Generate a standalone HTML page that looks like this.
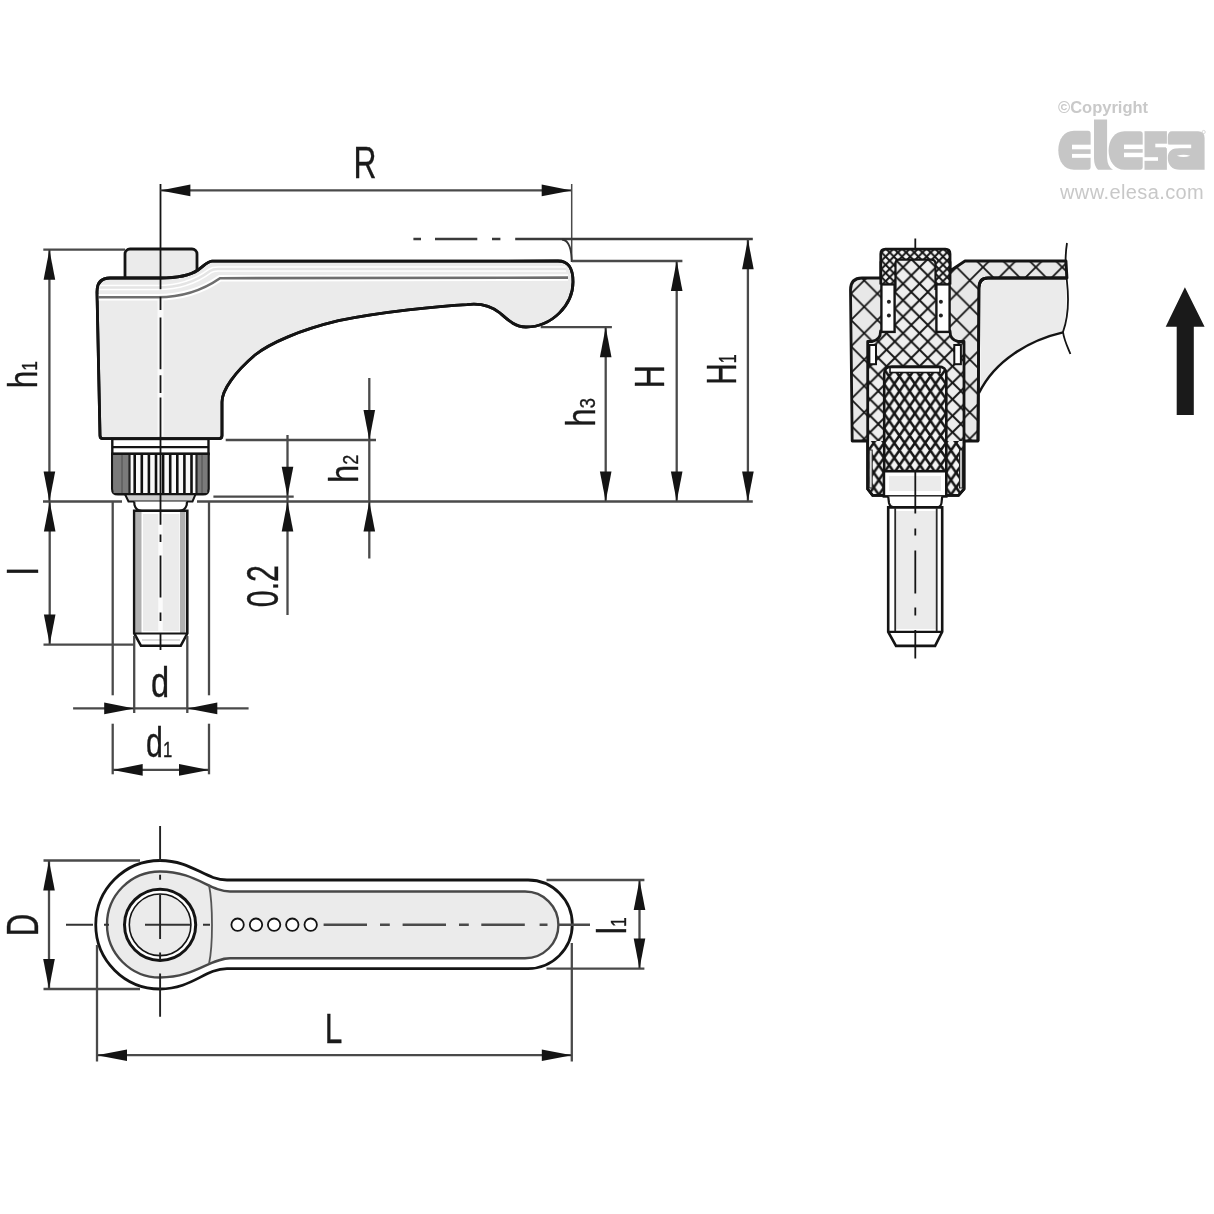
<!DOCTYPE html><html><head><meta charset="utf-8"><style>html,body{margin:0;padding:0;background:#fff;width:1214px;height:1214px;overflow:hidden}svg{display:block;will-change:transform}</style></head><body>
<svg width="1214" height="1214" viewBox="0 0 1214 1214">
<defs>
<pattern id="hc" patternUnits="userSpaceOnUse" width="26.40" height="26.40" x="851.0" y="320.0"><rect width="26.40" height="26.40" fill="#e8e8e8"/><path d="M-2.00,-2.00 L28.40,28.40 M28.40,-2.00 L-2.00,28.40 M-2,-2 L0.00,0.00 M0.00,0.00 L0.00,0.00" stroke="#151515" stroke-width="1.80"/></pattern>
<pattern id="hm" patternUnits="userSpaceOnUse" width="16.50" height="16.50" x="878.3" y="341.5"><rect width="16.50" height="16.50" fill="#eeeeee"/><path d="M-2.00,-2.00 L18.50,18.50 M18.50,-2.00 L-2.00,18.50 M-2,-2 L0.00,0.00 M0.00,0.00 L0.00,0.00" stroke="#151515" stroke-width="1.90"/></pattern>
<pattern id="hk" patternUnits="userSpaceOnUse" width="10.3" height="14.8" x="884" y="369"><rect width="10.3" height="14.8" fill="#f4f4f4"/><path d="M-1.03,-1.48 L11.33,16.28 M11.33,-1.48 L-1.03,16.28" stroke="#151515" stroke-width="2.5"/></pattern>
<pattern id="hf" patternUnits="userSpaceOnUse" width="8.20" height="8.20" x="881.5" y="252.5"><rect width="8.20" height="8.20" fill="#f6f6f6"/><path d="M-2.00,-2.00 L10.20,10.20 M10.20,-2.00 L-2.00,10.20 M-2,-2 L0.00,0.00 M0.00,0.00 L0.00,0.00" stroke="#151515" stroke-width="2.00"/></pattern>
</defs>
<rect x="125" y="249" width="72" height="40" rx="5" fill="#ebebeb" stroke="#141414" stroke-width="2.8"/>
<path d="M97,292 Q97,278 110,278 L160,278 C180,278 190,275.5 198,270 C204,266 207,261.5 212,261.2 L558,261 C570,261 573,270 573,282 C573,305 552,327 526,327 C515,327 508,320 500,313 C490,305 480,303 467,304.6 C440,306 380,312 338.5,320.7 C300,330 270,343 255,355 C235,372 222,390 222,402 L222,435.5 Q222,438.6 219,438.6 L103,438.6 Q100,438.6 100,435.5 Z" fill="#ebebeb" stroke="#141414" stroke-width="2.8" stroke-linejoin="round"/>
<path d="M99,287.5 L158,287.5 C176,287.5 194,283 210,271 C213,269 214,269 218,269 L566,269" fill="none" stroke="#fff" stroke-width="5.5"/>
<path d="M99,287.5 L158,287.5 C176,287.5 194,283 210,271 C213,269 214,269 218,269 L566,269" fill="none" stroke="#e4e4e4" stroke-width="2.5"/>
<path d="M98.5,297.2 L158,297.2 C178,297.2 200,292 220,278.2 L568,277.6" fill="none" stroke="#fff" stroke-width="6.5"/>
<path d="M98.5,297.2 L158,297.2 C178,297.2 200,292 220,278.2 L568,277.6" fill="none" stroke="#6e6e6e" stroke-width="2.6"/>
<path d="M97,292 Q97,278 110,278 L160,278 C180,278 190,275.5 198,270 C204,266 207,261.5 212,261.2 L558,261 C570,261 573,270 573,282 C573,305 552,327 526,327 C515,327 508,320 500,313 C490,305 480,303 467,304.6 C440,306 380,312 338.5,320.7 C300,330 270,343 255,355 C235,372 222,390 222,402 L222,435.5 Q222,438.6 219,438.6 L103,438.6 Q100,438.6 100,435.5 Z" fill="none" stroke="#141414" stroke-width="2.8" stroke-linejoin="round"/>
<rect x="112.3" y="439" width="96.2" height="15" fill="#fff" stroke="#141414" stroke-width="2.4"/>
<line x1="112.3" y1="447.2" x2="208.5" y2="447.2" stroke="#141414" stroke-width="2.20" />
<path d="M112.3,453.8 L208.5,453.8 L208.5,489 Q208.5,494.3 203,494.3 L118,494.3 Q112.3,494.3 112.3,489 Z" fill="#fafafa" stroke="#141414" stroke-width="2.6"/>
<rect x="113.5" y="455" width="16" height="38" fill="#7a7a7a"/>
<rect x="197" y="455" width="10.3" height="38" fill="#7a7a7a"/>
<line x1="122.0" y1="455.0" x2="122.0" y2="493.0" stroke="#555" stroke-width="1.20" />
<line x1="202.0" y1="455.0" x2="202.0" y2="493.0" stroke="#555" stroke-width="1.20" />
<line x1="134.7" y1="455.0" x2="134.7" y2="493.0" stroke="#111" stroke-width="2.60" />
<line x1="141.8" y1="455.0" x2="141.8" y2="493.0" stroke="#111" stroke-width="2.60" />
<line x1="148.9" y1="455.0" x2="148.9" y2="493.0" stroke="#111" stroke-width="2.60" />
<line x1="156.0" y1="455.0" x2="156.0" y2="493.0" stroke="#111" stroke-width="2.60" />
<line x1="163.1" y1="455.0" x2="163.1" y2="493.0" stroke="#111" stroke-width="2.60" />
<line x1="170.2" y1="455.0" x2="170.2" y2="493.0" stroke="#111" stroke-width="2.60" />
<line x1="177.3" y1="455.0" x2="177.3" y2="493.0" stroke="#111" stroke-width="2.60" />
<line x1="184.4" y1="455.0" x2="184.4" y2="493.0" stroke="#111" stroke-width="2.60" />
<line x1="191.5" y1="455.0" x2="191.5" y2="493.0" stroke="#111" stroke-width="2.60" />
<line x1="129.5" y1="455.0" x2="129.5" y2="493.0" stroke="#222" stroke-width="2.20" />
<line x1="196.5" y1="455.0" x2="196.5" y2="493.0" stroke="#222" stroke-width="2.20" />
<path d="M125,494.3 L128.5,501.5 L192.5,501.5 L195.5,494.3 Z" fill="#cfcfcf" stroke="#141414" stroke-width="2"/>
<path d="M134.2,501.5 L134.5,505 Q136,510.8 142,510.8 L179,510.8 Q185,510.8 186.7,505 L187,501.5" fill="#fff" stroke="#141414" stroke-width="2.2"/>
<path d="M134.2,510.8 L134.2,633.5 L141,645.8 L180.7,645.8 L187.3,633.5 L187.3,510.8 Z" fill="#fff" stroke="#141414" stroke-width="2.6"/>
<rect x="143" y="514" width="36.5" height="117" fill="#ebebeb"/>
<rect x="136" y="512" width="5.5" height="121" fill="#b0b0b0"/>
<rect x="180" y="512" width="5.5" height="121" fill="#b0b0b0"/>
<path d="M160.5,514 L160.5,631" stroke="#fbfbfb" stroke-width="4.5"/>
<line x1="134.2" y1="633.5" x2="187.3" y2="633.5" stroke="#141414" stroke-width="2.20" />
<path d="M142,640 L180,640" stroke="#ddd" stroke-width="2"/>
<path d="M160.5,299 L160.5,436" stroke="#fafafa" stroke-width="6"/>
<path d="M160.5,184 L160.5,289.3 M160.5,296.7 L160.5,310 M160.5,317.4 L160.5,369.3 M160.5,375.2 L160.5,393 M160.5,397.4 L160.5,524.7 M160.5,534.6 L160.5,542 M160.5,555.6 L160.5,597.6 M160.5,612.5 L160.5,621 M160.5,633.5 L160.5,650" stroke="#141414" stroke-width="1.8"/>
<line x1="160.4" y1="190.4" x2="571.7" y2="190.4" stroke="#4a4a4a" stroke-width="2.30" />
<path d="M160.4,190.4 L190.4,184.6 L190.4,196.2 Z" fill="#141414"/>
<path d="M571.7,190.4 L541.7,184.6 L541.7,196.2 Z" fill="#141414"/>
<line x1="571.7" y1="184.0" x2="571.7" y2="262.0" stroke="#4a4a4a" stroke-width="1.50" />
<path d="M413.4,239 L421,239 M435,239 L477.3,239 M492,239 L500.4,239 M515.2,239 L752.8,239" stroke="#3a3a3a" stroke-width="2.5"/>
<path d="M562,239.5 C568,240 571.5,246 571.7,262" fill="none" stroke="#333" stroke-width="1.8"/>
<line x1="572.0" y1="261.0" x2="682.4" y2="261.0" stroke="#4a4a4a" stroke-width="2.30" />
<line x1="540.7" y1="327.2" x2="611.9" y2="327.2" stroke="#4a4a4a" stroke-width="2.30" />
<line x1="43.0" y1="501.5" x2="122.0" y2="501.5" stroke="#4a4a4a" stroke-width="2.30" />
<line x1="197.0" y1="501.5" x2="752.8" y2="501.5" stroke="#4a4a4a" stroke-width="2.30" />
<line x1="43.3" y1="249.7" x2="125.0" y2="249.7" stroke="#4a4a4a" stroke-width="2.30" />
<line x1="49.4" y1="249.7" x2="49.4" y2="501.5" stroke="#4a4a4a" stroke-width="2.30" />
<path d="M49.4,249.7 L43.6,279.7 L55.2,279.7 Z" fill="#141414"/>
<path d="M49.4,501.5 L43.6,471.5 L55.2,471.5 Z" fill="#141414"/>
<line x1="49.7" y1="501.5" x2="49.7" y2="644.6" stroke="#4a4a4a" stroke-width="2.30" />
<path d="M49.7,501.5 L43.9,531.5 L55.5,531.5 Z" fill="#141414"/>
<path d="M49.7,644.6 L43.9,614.6 L55.5,614.6 Z" fill="#141414"/>
<line x1="43.5" y1="644.6" x2="135.0" y2="644.6" stroke="#4a4a4a" stroke-width="2.30" />
<line x1="605.7" y1="327.2" x2="605.7" y2="501.5" stroke="#4a4a4a" stroke-width="2.30" />
<path d="M605.7,327.2 L599.9,357.2 L611.5,357.2 Z" fill="#141414"/>
<path d="M605.7,501.5 L599.9,471.5 L611.5,471.5 Z" fill="#141414"/>
<line x1="676.7" y1="261.0" x2="676.7" y2="501.5" stroke="#4a4a4a" stroke-width="2.30" />
<path d="M676.7,261.0 L670.9,291.0 L682.5,291.0 Z" fill="#141414"/>
<path d="M676.7,501.5 L670.9,471.5 L682.5,471.5 Z" fill="#141414"/>
<line x1="747.9" y1="239.3" x2="747.9" y2="501.5" stroke="#4a4a4a" stroke-width="2.30" />
<path d="M747.9,239.3 L742.1,269.3 L753.7,269.3 Z" fill="#141414"/>
<path d="M747.9,501.5 L742.1,471.5 L753.7,471.5 Z" fill="#141414"/>
<line x1="225.7" y1="440.0" x2="376.0" y2="440.0" stroke="#4a4a4a" stroke-width="2.30" />
<line x1="369.3" y1="378.0" x2="369.3" y2="558.5" stroke="#4a4a4a" stroke-width="2.30" />
<path d="M369.3,440.0 L363.5,410.0 L375.1,410.0 Z" fill="#141414"/>
<path d="M369.3,501.5 L363.5,531.5 L375.1,531.5 Z" fill="#141414"/>
<line x1="287.5" y1="435.0" x2="287.5" y2="615.0" stroke="#4a4a4a" stroke-width="2.30" />
<path d="M287.5,496.7 L281.7,466.7 L293.3,466.7 Z" fill="#141414"/>
<path d="M287.5,501.5 L281.7,531.5 L293.3,531.5 Z" fill="#141414"/>
<line x1="213.4" y1="496.7" x2="293.7" y2="496.7" stroke="#4a4a4a" stroke-width="2.30" />
<line x1="112.7" y1="501.0" x2="112.7" y2="695.3" stroke="#4a4a4a" stroke-width="2.30" />
<line x1="112.7" y1="723.7" x2="112.7" y2="774.3" stroke="#4a4a4a" stroke-width="2.30" />
<line x1="209.0" y1="501.0" x2="209.0" y2="695.3" stroke="#4a4a4a" stroke-width="2.30" />
<line x1="209.0" y1="723.7" x2="209.0" y2="774.3" stroke="#4a4a4a" stroke-width="2.30" />
<line x1="134.2" y1="636.0" x2="134.2" y2="713.0" stroke="#4a4a4a" stroke-width="2.30" />
<line x1="187.3" y1="636.0" x2="187.3" y2="713.0" stroke="#4a4a4a" stroke-width="2.30" />
<line x1="73.1" y1="708.4" x2="248.6" y2="708.4" stroke="#4a4a4a" stroke-width="2.30" />
<path d="M134.2,708.4 L104.2,702.6 L104.2,714.2 Z" fill="#141414"/>
<path d="M187.3,708.4 L217.3,702.6 L217.3,714.2 Z" fill="#141414"/>
<line x1="112.7" y1="769.9" x2="209.0" y2="769.9" stroke="#4a4a4a" stroke-width="2.30" />
<path d="M112.7,769.9 L142.7,764.1 L142.7,775.7 Z" fill="#141414"/>
<path d="M209.0,769.9 L179.0,764.1 L179.0,775.7 Z" fill="#141414"/>
<path d="M852.2,441 L850.5,290 Q850.5,278 862,278 L881,278 L881,262 L950,262 L950,271 L965,261 L1066,261 L1067,278 L988,278 Q979,278 979,288 L978,441 Z" fill="url(#hc)" stroke="#141414" stroke-width="2.8" stroke-linejoin="round"/>
<path d="M988,280 L1065,280 C1068,300 1066,315 1063,332.4 C1030,340 995,360 980.5,393 L980.5,290 Q980.5,280 988,280 Z" fill="#ebebeb"/>
<path d="M1063,332.4 C1030,340 995,360 979,393" fill="none" stroke="#141414" stroke-width="2.4"/>
<path d="M1066,278 L988,278 Q979,278 979,288 L978,441" fill="none" stroke="#141414" stroke-width="2.8"/>
<path d="M1067,243 C1064,262 1066,270 1067,282 C1069,300 1068,318 1063,332 C1064,340 1068,348 1070.4,354" fill="none" stroke="#141414" stroke-width="1.8"/>
<path d="M867.7,341.5 L872,341.5 Q880.6,340 880.6,331 L884,331 L884,262 L946,262 L946,331 L950,331 Q950,340 958,341.5 L964,341.5 L964,489 L958.5,495.3 L872.7,495.3 L867.7,489 Z" fill="url(#hm)" stroke="#141414" stroke-width="2.8" stroke-linejoin="round"/>
<path d="M868.9,441 L884.2,441 L884.2,494 L873,494 L868.9,488.5 Z" fill="url(#hk)"/>
<path d="M946.3,441 L962.8,441 L962.8,488.5 L958.5,494 L946.3,494 Z" fill="url(#hk)"/>
<path d="M867.7,441 L867.7,489 L872.7,495.3 L958.5,495.3 L964,489 L964,441" fill="none" stroke="#141414" stroke-width="2.8"/>
<rect x="869.2" y="450" width="3" height="38" fill="#ddd" stroke="#222" stroke-width="1"/>
<rect x="959.5" y="450" width="3" height="38" fill="#bbb" stroke="#222" stroke-width="1"/>
<path d="M884.2,471.2 L884.2,374 Q884.2,366.5 892,366.5 L938,366.5 Q946.3,366.5 946.3,374 L946.3,471.2 Z" fill="url(#hk)" stroke="#141414" stroke-width="2.6"/>
<rect x="890" y="367.5" width="50" height="5" fill="#fff" stroke="#141414" stroke-width="1.6"/>
<rect x="869.4" y="345" width="6.6" height="19.2" fill="#fff" stroke="#141414" stroke-width="2"/>
<rect x="954.3" y="345" width="6.6" height="19.2" fill="#fff" stroke="#141414" stroke-width="2"/>
<path d="M880.8,284.4 L880.8,254 Q880.8,249.2 885.5,249.2 L945.3,249.2 Q950,249.2 950,254 L950,284.4 Z" fill="url(#hf)" stroke="none"/>
<path d="M880.8,284.4 L880.8,254 Q880.8,249.2 885.5,249.2 L945.3,249.2 Q950,249.2 950,254 L950,284.4" fill="none" stroke="#141414" stroke-width="2.8"/>
<path d="M895.5,290 L895.5,264 Q895.5,259.7 899,259.7 L931,259.7 Q935.5,259.7 935.5,264 L935.5,290 Z" fill="url(#hm)" stroke="none"/>
<path d="M895.5,290 L895.5,264 Q895.5,259.7 899,259.7 L931,259.7 Q935.5,259.7 935.5,264 L935.5,290" fill="none" stroke="#141414" stroke-width="2.2"/>
<rect x="881.4" y="284.4" width="13.2" height="47.5" fill="#fff" stroke="#141414" stroke-width="2.4"/>
<circle cx="888.9" cy="301.8" r="2.0" fill="#222"/>
<circle cx="888.9" cy="315.4" r="2.0" fill="#222"/>
<rect x="936.4" y="284.4" width="13.2" height="47.5" fill="#fff" stroke="#141414" stroke-width="2.4"/>
<circle cx="940.9" cy="301.8" r="2.0" fill="#222"/>
<circle cx="940.9" cy="315.4" r="2.0" fill="#222"/>
<rect x="883.9" y="471.2" width="62.4" height="25.2" fill="#fff" stroke="#141414" stroke-width="2.6"/>
<rect x="889" y="476" width="52" height="15" fill="#ebebeb"/>
<path d="M888.2,496.4 L889,503 Q890,507.4 895,507.4 L936,507.4 Q941,507.4 941.5,503 L942.2,496.4" fill="#fff" stroke="#141414" stroke-width="2.2"/>
<path d="M888.2,507.4 L888.2,631.8 L896,645.9 L935.1,645.9 L942.2,631.8 L942.2,507.4 Z" fill="#fff" stroke="#141414" stroke-width="2.6"/>
<rect x="896" y="511" width="40" height="118" fill="#ebebeb"/>
<line x1="895.2" y1="508.0" x2="895.2" y2="631.8" stroke="#2a2a2a" stroke-width="1.80" />
<line x1="936.7" y1="508.0" x2="936.7" y2="631.8" stroke="#2a2a2a" stroke-width="1.80" />
<line x1="888.2" y1="631.8" x2="942.2" y2="631.8" stroke="#141414" stroke-width="2.20" />
<path d="M915.3,238.6 L915.3,250 M915.3,471.2 L915.3,513.6 M915.3,528.5 L915.3,535.6 M915.3,550.4 L915.3,593.5 M915.3,607.5 L915.3,615.4 M915.3,630 L915.3,658.4" stroke="#141414" stroke-width="1.8"/>
<path d="M1184.9,287.2 L1204.6,326.7 L1193.8,326.7 L1193.8,415.1 L1176.7,415.1 L1176.7,326.7 L1165.7,326.7 Z" fill="#1a1a1a"/>
<text transform="translate(1058,112.8)" font-family="Liberation Sans, sans-serif" font-size="16.5" font-weight="bold" fill="#c9c9c9">&#169;Copyright</text>
<g fill="#c6c6c6">
<path d="M1074,130.8 L1088,130.8 Q1090.6,130.8 1090.6,133.5 L1090.6,167 Q1090.6,169.7 1088,169.7 L1074,169.7 C1064,169.7 1058.3,161 1058.3,150.25 C1058.3,139.5 1064,130.8 1074,130.8 Z"/>
<path d="M1094,119.6 L1107.1,119.6 L1107.1,158 Q1107.5,167 1113,169.7 L1098,169.7 Q1094,166 1094,158 Z"/>
<path d="M1124.5,131.2 L1140,131.2 Q1142.7,131.2 1142.7,134 L1142.7,167 Q1142.7,169.8 1140,169.8 L1124.5,169.8 C1114.5,169.8 1108.6,161 1108.6,150.5 C1108.6,140 1114.5,131.2 1124.5,131.2 Z"/>
<path d="M1152,131.2 L1166.9,131.2 L1166.9,169.8 L1159,169.8 L1144.5,169.8 L1144.5,131.2 Z" />
<path d="M1172,131.2 L1198,131.2 Q1204.6,131.2 1204.6,138 L1204.6,169.8 L1180,169.8 C1172,169.8 1167.8,165 1167.8,158 C1167.8,151 1172,148 1180,148 L1167.8,148 L1167.8,137 Q1167.8,131.2 1172,131.2 Z"/>
</g>
<g fill="#fff">
<rect x="1072" y="144.7" width="21" height="4.6"/><rect x="1072" y="153.9" width="21" height="3.9"/>
<rect x="1124" y="144.6" width="20" height="4.5"/><rect x="1124" y="152.7" width="20" height="4.5"/>
<rect x="1155.3" y="143.7" width="13" height="3.6"/><rect x="1143" y="157.2" width="15" height="3.6"/>
<rect x="1166" y="144.6" width="25.2" height="3.6"/><path d="M1176.8,155.8 Q1183.5,153.5 1190.3,155.8 Q1183.5,158.2 1176.8,155.8 Z"/>
</g>
<circle cx="1203.7" cy="132" r="1.6" fill="none" stroke="#d0d0d0" stroke-width="0.8"/>
<text transform="translate(1060,198.8)" font-family="Liberation Sans, sans-serif" font-size="20" fill="#c8c8c8" letter-spacing="0.4">www.elesa.com</text>
<path d="M227,880 L528,880 A44.3,44.3 0 0 1 528,968.6 L227,968.6 C205,968.6 192,989 160,989 A64.2,64.2 0 0 1 160,860.5 C192,860.5 205,880 227,880 Z" fill="#fff" stroke="#141414" stroke-width="2.8"/>
<path d="M230,891.5 L525,891.5 A33.4,33.4 0 0 1 525,958.3 L230,958.3 C210,958.3 195,977.5 160,977.5 A53,53 0 0 1 160,871.5 C195,871.5 210,891.5 230,891.5 Z" fill="#ebebeb" stroke="#484848" stroke-width="2.4"/>
<path d="M209,885 C213,905 213,945 209,964" fill="none" stroke="#555" stroke-width="1.8"/>
<circle cx="160.1" cy="924.8" r="35.6" fill="#fff" stroke="#141414" stroke-width="3"/>
<circle cx="160.1" cy="924.8" r="30.8" fill="#ebebeb" stroke="#141414" stroke-width="1.6"/>
<circle cx="237.6" cy="924.7" r="6.2" fill="#fff" stroke="#141414" stroke-width="1.8"/>
<circle cx="256.0" cy="924.7" r="6.2" fill="#fff" stroke="#141414" stroke-width="1.8"/>
<circle cx="274.1" cy="924.7" r="6.2" fill="#fff" stroke="#141414" stroke-width="1.8"/>
<circle cx="292.3" cy="924.7" r="6.2" fill="#fff" stroke="#141414" stroke-width="1.8"/>
<circle cx="310.7" cy="924.7" r="6.2" fill="#fff" stroke="#141414" stroke-width="1.8"/>
<path d="M66,924.8 L93,924.8 M104,924.8 L109,924.8 M145,924.8 L190,924.8 M203,924.8 L210,924.8" stroke="#333" stroke-width="2"/>
<path d="M160.1,826 L160.1,861 M160.1,874.7 L160.1,879.7 M160.1,894.5 L160.1,939 M160.1,952.6 L160.1,960 M160.1,973.6 L160.1,1016.7" stroke="#222" stroke-width="1.9"/>
<path d="M323.6,924.7 L367,924.7 M380,924.7 L389.8,924.7 M402.6,924.7 L446,924.7 M459,924.7 L468.8,924.7 M481.3,924.7 L524.8,924.7 M539.6,924.7 L547.5,924.7 M558.4,924.7 L590,924.7" stroke="#4a4a4a" stroke-width="2.6"/>
<line x1="43.5" y1="860.5" x2="140.0" y2="860.5" stroke="#4a4a4a" stroke-width="2.30" />
<line x1="43.5" y1="989.0" x2="140.0" y2="989.0" stroke="#4a4a4a" stroke-width="2.30" />
<line x1="49.0" y1="860.5" x2="49.0" y2="989.0" stroke="#4a4a4a" stroke-width="2.30" />
<path d="M49.0,860.5 L43.2,890.5 L54.8,890.5 Z" fill="#141414"/>
<path d="M49.0,989.0 L43.2,959.0 L54.8,959.0 Z" fill="#141414"/>
<line x1="546.5" y1="880.0" x2="644.4" y2="880.0" stroke="#4a4a4a" stroke-width="2.30" />
<line x1="546.5" y1="968.6" x2="644.4" y2="968.6" stroke="#4a4a4a" stroke-width="2.30" />
<line x1="639.5" y1="880.0" x2="639.5" y2="968.6" stroke="#4a4a4a" stroke-width="2.30" />
<path d="M639.5,880.0 L633.7,910.0 L645.3,910.0 Z" fill="#141414"/>
<path d="M639.5,968.6 L633.7,938.6 L645.3,938.6 Z" fill="#141414"/>
<line x1="97.0" y1="945.0" x2="97.0" y2="1061.5" stroke="#4a4a4a" stroke-width="2.30" />
<line x1="571.8" y1="943.0" x2="571.8" y2="1061.5" stroke="#4a4a4a" stroke-width="2.30" />
<line x1="97.0" y1="1055.2" x2="571.8" y2="1055.2" stroke="#4a4a4a" stroke-width="2.30" />
<path d="M97.0,1055.2 L127.0,1049.4 L127.0,1061.0 Z" fill="#141414"/>
<path d="M571.8,1055.2 L541.8,1049.4 L541.8,1061.0 Z" fill="#141414"/>
<text transform="translate(365.10,178.20) scale(0.7155,1)" font-family="Liberation Sans, sans-serif" font-size="44.43" fill="#1a1a1a" stroke="#1a1a1a" stroke-width="0.35" text-anchor="middle">R</text>
<text transform="translate(37.00,374.60) rotate(-90) scale(0.7904,1)" font-family="Liberation Sans, sans-serif" font-size="39.85" fill="#1a1a1a" stroke="#1a1a1a" stroke-width="0.35" text-anchor="middle">h<tspan font-size="21.92">1</tspan></text>
<text transform="translate(664.30,376.80) rotate(-90) scale(0.7703,1)" font-family="Liberation Sans, sans-serif" font-size="42.05" fill="#1a1a1a" stroke="#1a1a1a" stroke-width="0.35" text-anchor="middle">H</text>
<text transform="translate(736.00,369.45) rotate(-90) scale(0.6899,1)" font-family="Liberation Sans, sans-serif" font-size="42.91" fill="#1a1a1a" stroke="#1a1a1a" stroke-width="0.35" text-anchor="middle">H<tspan font-size="23.60">1</tspan></text>
<text transform="translate(594.90,412.50) rotate(-90) scale(0.8117,1)" font-family="Liberation Sans, sans-serif" font-size="41.00" fill="#1a1a1a" stroke="#1a1a1a" stroke-width="0.35" text-anchor="middle">h<tspan font-size="22.55">3</tspan></text>
<text transform="translate(357.70,468.75) rotate(-90) scale(0.7989,1)" font-family="Liberation Sans, sans-serif" font-size="41.09" fill="#1a1a1a" stroke="#1a1a1a" stroke-width="0.35" text-anchor="middle">h<tspan font-size="22.60">2</tspan></text>
<text transform="translate(277.80,586.15) rotate(-90) scale(0.6881,1)" font-family="Liberation Sans, sans-serif" font-size="44.11" fill="#1a1a1a" stroke="#1a1a1a" stroke-width="0.35" text-anchor="middle">0.2</text>
<text transform="translate(37.60,571.20) rotate(-90) scale(0.8000,1)" font-family="Liberation Sans, sans-serif" font-size="41.63" fill="#1a1a1a" stroke="#1a1a1a" stroke-width="0.35" text-anchor="middle">l</text>
<text transform="translate(160.10,696.80) scale(0.7545,1)" font-family="Liberation Sans, sans-serif" font-size="43.24" fill="#1a1a1a" stroke="#1a1a1a" stroke-width="0.35" text-anchor="middle">d</text>
<text transform="translate(159.15,757.20) scale(0.7287,1)" font-family="Liberation Sans, sans-serif" font-size="41.63" fill="#1a1a1a" stroke="#1a1a1a" stroke-width="0.35" text-anchor="middle">d<tspan font-size="22.90">1</tspan></text>
<text transform="translate(37.90,925.00) rotate(-90) scale(0.7064,1)" font-family="Liberation Sans, sans-serif" font-size="44.12" fill="#1a1a1a" stroke="#1a1a1a" stroke-width="0.35" text-anchor="middle">D</text>
<text transform="translate(333.60,1043.40) scale(0.7312,1)" font-family="Liberation Sans, sans-serif" font-size="43.26" fill="#1a1a1a" stroke="#1a1a1a" stroke-width="0.35" text-anchor="middle">L</text>
<text transform="translate(626.30,925.70) rotate(-90) scale(0.7845,1)" font-family="Liberation Sans, sans-serif" font-size="41.00" fill="#1a1a1a" stroke="#1a1a1a" stroke-width="0.35" text-anchor="middle">l<tspan font-size="22.55">1</tspan></text>
</svg></body></html>
